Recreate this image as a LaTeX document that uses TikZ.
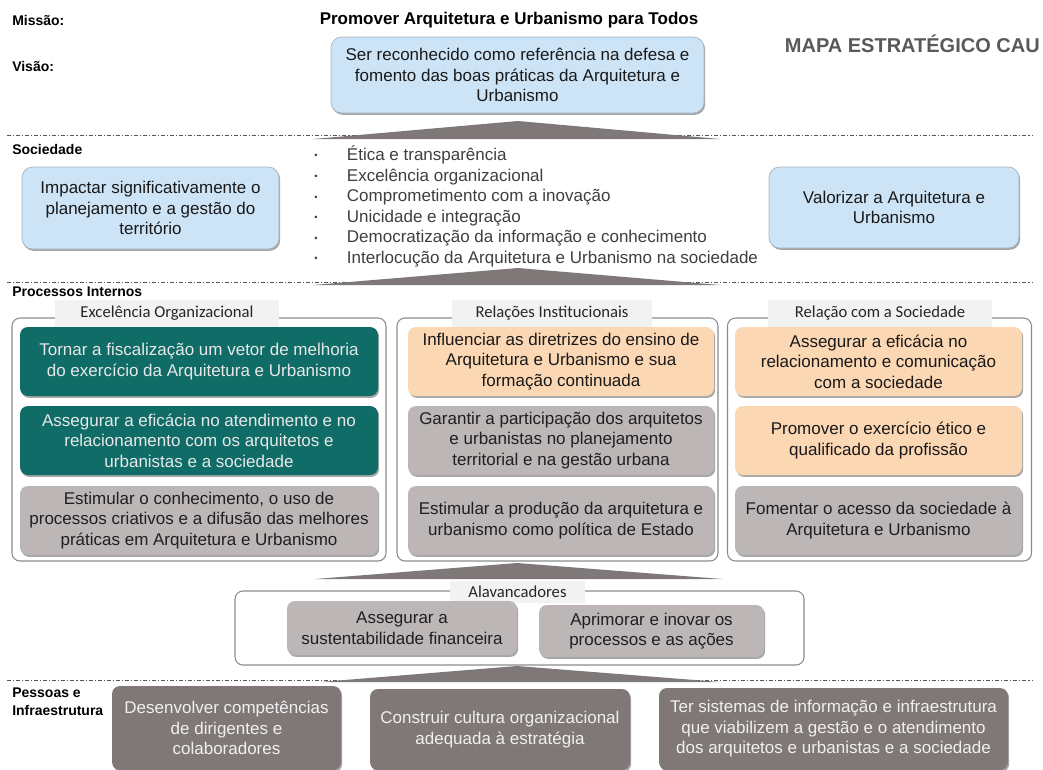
\documentclass[tikz,border=0pt]{standalone}
\usepackage{fontspec}
\setmainfont{Liberation Sans}
\newfontfamily\tabfont{Carlito}
\usetikzlibrary{shadows}
\definecolor{lblue}{HTML}{CDE4F7}
\definecolor{bluedge}{HTML}{9FB3C6}
\definecolor{teal1}{HTML}{106C67}
\definecolor{tealtext}{HTML}{E8E8E8}
\definecolor{peach}{HTML}{FCD7B4}
\definecolor{lgray}{HTML}{BCB7B6}
\definecolor{dgray}{HTML}{7F7877}
\definecolor{framec}{HTML}{8C8C8C}
\definecolor{tabc}{HTML}{F2F2F2}
\definecolor{sepc}{HTML}{555555}
\definecolor{wedgec}{HTML}{7F7878}
\definecolor{titlec}{HTML}{595959}
\definecolor{listc}{HTML}{3F3F3F}
\tikzset{
 basefont/.style={inner sep=0pt, align=center, font=\fontsize{12.75}{15.4}\selectfont},
 card/.style={basefont, rounded corners=6pt, drop shadow={shadow xshift=0.9pt, shadow yshift=-1.4pt, fill=black, opacity=0.35}},
 bluecard/.style={card, fill=lblue, draw=bluedge, line width=0.5pt, text=black!90},
 tealcard/.style={card, fill=teal1, text=tealtext},
 peachcard/.style={card, fill=peach, text=black!90},
 graycard/.style={card, fill=lgray, text=black!88},
 darkcard/.style={card, fill=dgray, text=white!94!black},
 framebox/.style={draw=framec, line width=0.8pt, rounded corners=6pt, inner sep=0pt, fill=white},
 tabbox/.style={fill=tabc, inner sep=0pt, font=\tabfont\fontsize{12.5}{14}\selectfont, text=black!85},
 sect/.style={anchor=west, font=\bfseries\fontsize{10.5}{13.5}\selectfont, inner sep=0pt, align=left},
 sepline/.style={draw=sepc, line width=0.6pt, dash pattern=on 3pt off 1.5pt on 0.8pt off 1.5pt},
 wedgefill/.style={fill=wedgec}
}
\begin{document}
\begin{tikzpicture}[x=0.75pt,y=-0.75pt]
\fill[white] (0,0) rectangle (1043,769);
\useasboundingbox (0,0) rectangle (1043,769);

% separators
\coordinate (s1a) at (7,135); \coordinate (s1b) at (1032,135);
\coordinate (s2a) at (7,282); \coordinate (s2b) at (1032,282);
\coordinate (s4a) at (7,680); \coordinate (s4b) at (1032,680);
\draw[sepline] (s1a) -- (s1b);
\draw[sepline] (s2a) -- (s2b);
\draw[sepline] (s4a) -- (s4b);

% wedges
\fill[wedgefill] (313,139) -- (518,121) -- (720,139) -- cycle;
\fill[wedgefill] (313,285) -- (518,268) -- (720,285) -- cycle;
\fill[wedgefill] (315,579) -- (517,563) -- (722,579) -- cycle;
\fill[wedgefill] (320,682) -- (517,666) -- (720,682) -- cycle;

% headings
\node[sect] (lmis) at (12,20) {Missão:};
\node[sect] (lvis) at (12,66) {Visão:};
\node[sect] (lsoc) at (12,149) {Sociedade};
\node[sect] (lpro) at (12,292) {Processos Internos};
\node[sect] (lpes) at (12,702) {Pessoas e\\Infraestrutura};

\node[inner sep=0pt, font=\bfseries\fontsize{12.75}{15}\selectfont] (miss) at (509,20) {Promover Arquitetura e Urbanismo para Todos};
\node[anchor=east, inner sep=0pt, font=\bfseries\fontsize{15}{18}\selectfont, text=titlec] (mapa) at (1040,44) {MAPA ESTRATÉGICO CAU};

% vision
\node[bluecard, rounded corners=8pt, minimum width=279.75pt, minimum height=57pt] (vis) at (517.5,75)
 {Ser reconhecido como referência na defesa e\\fomento das boas práticas da Arquitetura e\\Urbanismo};

% sociedade
\node[bluecard, rounded corners=8pt, minimum width=192.75pt, minimum height=61.5pt] (soc1) at (150.5,208)
 {Impactar significativamente o\\planejamento e a gestão do\\território};
\node[bluecard, rounded corners=8pt, minimum width=187.5pt, minimum height=60.75pt] (soc2) at (894,207.5)
 {Valorizar a Arquitetura e\\Urbanismo};
\node[anchor=west, inner sep=0pt, align=left, text=listc, font=\fontsize{12.75}{15.45}\selectfont] (vals) at (314,206.5)
 {\makebox[24.5pt][l]{\raisebox{1.2pt}{\fontsize{7}{7}\selectfont\textbullet}}Ética e transparência\\
  \makebox[24.5pt][l]{\raisebox{1.2pt}{\fontsize{7}{7}\selectfont\textbullet}}Excelência organizacional\\
  \makebox[24.5pt][l]{\raisebox{1.2pt}{\fontsize{7}{7}\selectfont\textbullet}}Comprometimento com a inovação\\
  \makebox[24.5pt][l]{\raisebox{1.2pt}{\fontsize{7}{7}\selectfont\textbullet}}Unicidade e integração\\
  \makebox[24.5pt][l]{\raisebox{1.2pt}{\fontsize{7}{7}\selectfont\textbullet}}Democratização da informação e conhecimento\\
  \makebox[24.5pt][l]{\raisebox{1.2pt}{\fontsize{7}{7}\selectfont\textbullet}}Interlocução da Arquitetura e Urbanismo na sociedade};

% processos internos frames
\node[framebox, minimum width=280.5pt, minimum height=182.25pt] (f1) at (199,439.5) {};
\node[framebox, minimum width=240.75pt, minimum height=182.25pt] (f2) at (557.5,439.5) {};
\node[framebox, minimum width=228pt, minimum height=182.25pt] (f3) at (879.5,439.5) {};
\node[tabbox, minimum width=168pt, minimum height=21pt] (t1) at (167,313.5) {Excelência Organizacional};
\node[tabbox, minimum width=150pt, minimum height=21pt] (t2) at (552,313.5) {Relações Institucionais};
\node[tabbox, minimum width=168pt, minimum height=21pt] (t3) at (880,313.5) {Relação com a Sociedade};

% column 1
\node[tealcard, minimum width=268.5pt, minimum height=51.75pt] (c1a) at (199,361.5)
 {Tornar a fiscalização um vetor de melhoria\\do exercício da Arquitetura e Urbanismo};
\node[tealcard, minimum width=268.5pt, minimum height=51.75pt] (c1b) at (199,440.5)
 {Assegurar a eficácia no atendimento e no\\relacionamento com os arquitetos e\\urbanistas e a sociedade};
\node[graycard, minimum width=268.5pt, minimum height=51.75pt] (c1c) at (199,520.5)
 {Estimular o conhecimento, o uso de\\processos criativos e a difusão das melhores\\práticas em Arquitetura e Urbanismo};

% column 2
\node[peachcard, minimum width=229.5pt, minimum height=51.75pt] (c2a) at (561,361.5)
 {Influenciar as diretrizes do ensino de\\Arquitetura e Urbanismo e sua\\formação continuada};
\node[graycard, minimum width=229.5pt, minimum height=51.75pt] (c2b) at (561,440.5)
 {Garantir a participação dos arquitetos\\e urbanistas no planejamento\\territorial e na gestão urbana};
\node[graycard, minimum width=229.5pt, minimum height=51.75pt] (c2c) at (561,520.5)
 {Estimular a produção da arquitetura e\\urbanismo como política de Estado};

% column 3
\node[peachcard, minimum width=215.25pt, minimum height=51.75pt] (c3a) at (878.5,361.5)
 {Assegurar a eficácia no\\relacionamento e comunicação\\com a sociedade};
\node[peachcard, minimum width=215.25pt, minimum height=51.75pt] (c3b) at (878.5,440.5)
 {Promover o exercício ético e\\qualificado da profissão};
\node[graycard, minimum width=215.25pt, minimum height=51.75pt] (c3c) at (878.5,520.5)
 {Fomentar o acesso da sociedade à\\Arquitetura e Urbanismo};

% alavancadores
\node[framebox, minimum width=426.75pt, minimum height=55.5pt] (fa) at (519.5,628) {};
\node[tabbox, minimum width=101.25pt, minimum height=16pt] (ta) at (517.5,592) {Alavancadores};
\node[graycard, minimum width=172.5pt, minimum height=40.5pt] (a1) at (402,628)
 {Assegurar a\\sustentabilidade financeira};
\node[graycard, minimum width=168.75pt, minimum height=39pt] (a2) at (651.5,631)
 {Aprimorar e inovar os\\processos e as ações};

% pessoas e infraestrutura
\node[darkcard, minimum width=171.75pt, minimum height=63pt] (b1) at (226.5,728)
 {Desenvolver competências\\de dirigentes e\\colaboradores};
\node[darkcard, minimum width=195pt, minimum height=60.75pt] (b2) at (500,729.5)
 {Construir cultura organizacional\\adequada à estratégia};
\node[darkcard, minimum width=261.75pt, minimum height=61.5pt] (b3) at (833.5,729)
 {Ter sistemas de informação e infraestrutura\\que viabilizem a gestão e o atendimento\\dos arquitetos e urbanistas e a sociedade};
\end{tikzpicture}
\end{document}
